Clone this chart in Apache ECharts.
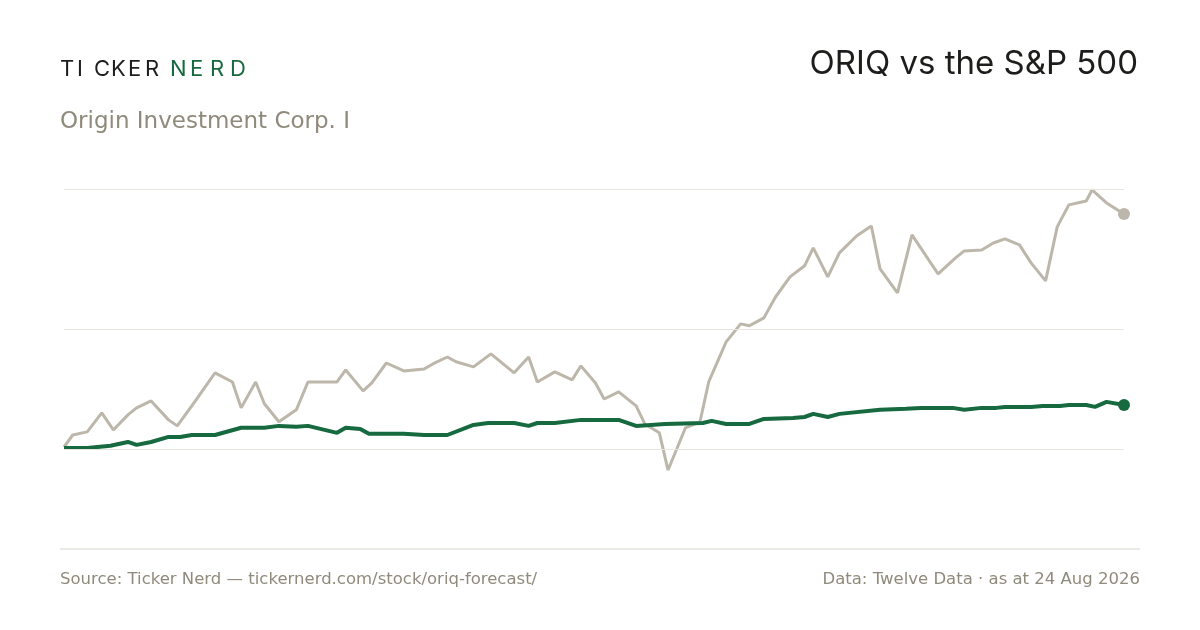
<!DOCTYPE html>
<html>
<head>
<meta charset="utf-8">
<script src="https://cdn.jsdelivr.net/npm/echarts@6/dist/echarts.min.js"></script>
<style>
  html, body { margin: 0; padding: 0; background: #fff; }
  #chart { width: 1200px; height: 630px; }
</style>
</head>
<body>
<div id="chart"></div>
<script>
// Day offsets and % return since start.
var oriqDays = [0, 3, 8, 13, 17, 22, 25, 30, 36, 39, 45, 52, 58, 61, 66, 69, 74, 80, 84, 94, 97, 103, 106, 111, 117, 124, 127, 132, 135, 141, 147, 155, 160, 163, 169, 175, 178, 183, 186, 191, 197, 200, 205, 208, 214, 219, 222, 228, 233, 236, 241, 245, 250, 255, 258, 263, 267, 273, 278, 281, 287, 292, 301, 307, 310, 316, 320, 324, 329, 333, 338, 342, 346, 352, 354, 359, 365];
var oriqReturn = [0.8, 5.8, 7.1, 15, 7.9, 14.2, 17.1, 20, 12.1, 9.6, 19.6, 31.7, 27.9, 17.1, 27.9, 18.8, 11.3, 16.3, 27.9, 27.9, 32.9, 24.2, 27.5, 35.8, 32.5, 33.3, 35.4, 38.3, 36.3, 34.2, 39.6, 31.7, 38.3, 27.9, 32.1, 28.8, 34.6, 27.5, 20.8, 23.8, 17.9, 10.4, 6.7, -8.8, 8.8, 11.3, 27.9, 44.6, 52.1, 51.3, 54.6, 63.3, 71.7, 76.3, 83.8, 71.7, 81.7, 88.8, 92.9, 75, 65, 89.2, 72.9, 79.6, 82.5, 82.9, 85.8, 87.5, 85, 77.5, 70, 92.5, 101.7, 103.3, 107.9, 102.5, 97.9];
var spxDays = [0, 8, 16, 22, 25, 30, 36, 40, 44, 52, 61, 69, 74, 80, 84, 94, 97, 102, 105, 117, 124, 132, 141, 146, 155, 160, 163, 169, 178, 191, 197, 207, 220, 223, 228, 236, 241, 251, 255, 258, 263, 267, 281, 290, 295, 306, 310, 316, 321, 324, 333, 337, 343, 346, 352, 355, 359, 365];
var spxReturn = [0.4, 0.4, 1.3, 2.9, 1.7, 2.9, 5, 5, 5.8, 5.8, 8.8, 8.8, 9.6, 9.2, 9.6, 6.7, 8.8, 8.3, 6.3, 6.3, 5.8, 5.8, 10, 10.8, 10.8, 9.6, 10.8, 10.8, 12.1, 12.1, 9.6, 10.4, 10.8, 11.7, 10.4, 10.4, 12.5, 12.9, 13.3, 14.6, 13.3, 14.6, 16.3, 16.7, 17.1, 17.1, 16.3, 17.1, 17.1, 17.5, 17.5, 17.9, 17.9, 18.3, 18.3, 17.5, 19.6, 18.3];
var gridValues = [0, 50, 108.3];
var logoLeft = 'TICKER';
var logoRight = 'NERD';

function pairs(xs, ys) {
    return xs.map(function (x, i) { return [x, ys[i]]; });
}

var chart = echarts.init(document.getElementById('chart'));
var font = 'Inter, "Noto Sans", sans-serif';
var wide = '"DejaVu Sans", sans-serif';
var green = '#17693f';
var grey = '#bdb6aa';

// Letter-spaced logo: one text element per letter.
var logo = [];
logoLeft.split('').forEach(function (ch, i) {
    logo.push({ type: 'text', x: 60 + i * 17, y: 58, style: { text: ch, fill: '#1d1d1b', font: '400 22px ' + font } });
});
logoRight.split('').forEach(function (ch, i) {
    logo.push({ type: 'text', x: 170 + i * 20, y: 58, style: { text: ch, fill: green, font: '400 22px ' + font } });
});

chart.setOption({
    animation: false,
    grid: { left: 64, right: 76, top: 189, bottom: 81 },
    xAxis: { type: 'value', min: 0, max: 365, show: false },
    yAxis: { type: 'value', min: -41.7, max: 108.3, show: false },
    graphic: logo.concat([
        { type: 'text', right: 62, top: 48, style: { text: 'ORIQ vs the S&P 500', fill: '#1d1d1b', font: '400 33px ' + font } },
        { type: 'text', left: 60, top: 111, style: { text: 'Origin Investment Corp. I', fill: '#8f8a7c', font: '400 23px ' + wide } },
        { type: 'line', shape: { x1: 60, y1: 549, x2: 1140, y2: 549 }, style: { stroke: '#d9d5cc', lineWidth: 1 } },
        { type: 'text', left: 60, top: 571, style: { text: 'Source: Ticker Nerd \u2014 tickernerd.com/stock/oriq-forecast/', fill: '#8f8a7c', font: '400 16.5px ' + wide } },
        { type: 'text', right: 60, top: 571, style: { text: 'Data: Twelve Data \u00b7 as at 24 Aug 2026', fill: '#8f8a7c', font: '400 16.5px ' + wide } }
    ]),
    series: [
        {
            type: 'line',
            data: pairs(oriqDays, oriqReturn),
            showSymbol: false,
            lineStyle: { color: grey, width: 3 },
            z: 2,
            markLine: {
                silent: true,
                symbol: 'none',
                label: { show: false },
                lineStyle: { color: '#e8e5de', width: 1, type: 'solid' },
                data: gridValues.map(function (v) { return { yAxis: v }; })
            },
            markPoint: {
                symbol: 'circle',
                symbolSize: 12,
                itemStyle: { color: grey },
                label: { show: false },
                data: [{ coord: [oriqDays[oriqDays.length - 1], oriqReturn[oriqReturn.length - 1]] }]
            }
        },
        {
            type: 'line',
            data: pairs(spxDays, spxReturn),
            showSymbol: false,
            lineStyle: { color: green, width: 4 },
            z: 3,
            markPoint: {
                symbol: 'circle',
                symbolSize: 12,
                itemStyle: { color: green },
                label: { show: false },
                data: [{ coord: [spxDays[spxDays.length - 1], spxReturn[spxReturn.length - 1]] }]
            }
        }
    ]
});
</script>
</body>
</html>
